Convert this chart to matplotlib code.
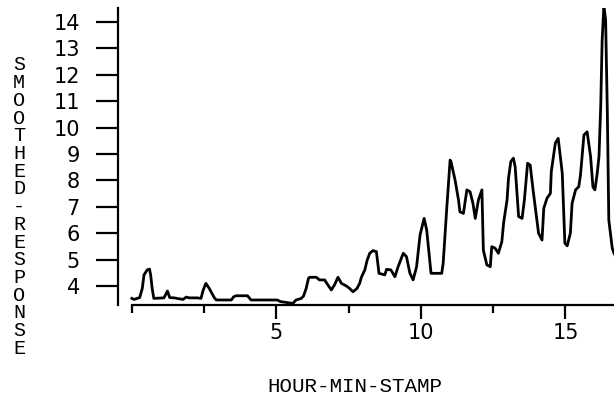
import matplotlib
matplotlib.use('Agg')
import matplotlib.pyplot as plt
from matplotlib.ticker import FixedLocator, MultipleLocator

# hour stamp vs smoothed response
hours = [0.0, 0.07, 0.27, 0.36, 0.42, 0.53, 0.61, 0.65, 0.70, 0.76,
         1.11, 1.23, 1.31, 1.46, 1.77, 1.88, 1.98, 2.26, 2.39, 2.47,
         2.56, 2.67, 2.85, 2.92, 3.44, 3.52, 3.60, 4.00, 4.12, 5.03,
         5.14, 5.57, 5.68, 5.86, 5.94, 6.03, 6.11, 6.15, 6.38, 6.49,
         6.67, 6.78, 6.90, 7.01, 7.13, 7.25, 7.42, 7.53, 7.65, 7.79,
         7.88, 7.94, 8.06, 8.14, 8.23, 8.34, 8.46, 8.55, 8.75, 8.81,
         8.96, 9.10, 9.21, 9.39, 9.50, 9.62, 9.73, 9.85, 9.97, 10.11,
         10.20, 10.35, 10.72, 10.77, 10.89, 11.01, 11.04, 11.18, 11.30, 11.35,
         11.47, 11.59, 11.70, 11.80, 11.88, 11.99, 12.11, 12.16, 12.28, 12.40,
         12.45, 12.57, 12.68, 12.80, 12.86, 12.98, 13.03, 13.11, 13.20, 13.26,
         13.38, 13.50, 13.58, 13.69, 13.78, 13.88, 13.99, 14.07, 14.19, 14.25,
         14.36, 14.48, 14.51, 14.65, 14.75, 14.89, 14.98, 15.06, 15.17, 15.23,
         15.35, 15.46, 15.52, 15.64, 15.75, 15.87, 15.95, 16.02, 16.10, 16.16,
         16.22, 16.27, 16.33, 16.39, 16.45, 16.50, 16.62, 16.68, 16.75]
response = [3.53, 3.49, 3.56, 3.91, 4.42, 4.61, 4.64, 4.42, 3.92, 3.53,
            3.55, 3.81, 3.56, 3.55, 3.49, 3.58, 3.55, 3.55, 3.53, 3.85,
            4.10, 3.92, 3.56, 3.47, 3.47, 3.59, 3.63, 3.63, 3.47, 3.47,
            3.41, 3.34, 3.47, 3.53, 3.62, 3.91, 4.29, 4.33, 4.33, 4.23,
            4.23, 4.04, 3.85, 4.04, 4.33, 4.10, 4.00, 3.91, 3.78, 3.91,
            4.10, 4.33, 4.61, 4.98, 5.24, 5.34, 5.30, 4.48, 4.42, 4.63,
            4.61, 4.35, 4.73, 5.24, 5.11, 4.48, 4.23, 4.73, 5.93, 6.56,
            6.12, 4.48, 4.48, 4.86, 6.88, 8.77, 8.71, 8.02, 7.26, 6.81,
            6.75, 7.64, 7.57, 7.13, 6.56, 7.26, 7.64, 5.36, 4.80, 4.73,
            5.49, 5.43, 5.24, 5.68, 6.38, 7.26, 8.08, 8.71, 8.84, 8.52,
            6.63, 6.56, 7.26, 8.65, 8.58, 7.64, 6.69, 6.00, 5.74, 6.94,
            7.32, 7.51, 8.33, 9.41, 9.59, 8.27, 5.62, 5.52, 6.00, 7.13,
            7.64, 7.76, 8.20, 9.72, 9.84, 8.90, 7.76, 7.64, 8.27, 8.90,
            10.79, 13.32, 14.60, 14.08, 10.54, 6.50, 5.43, 5.24, 5.10]

x_major = [5, 10, 15]
y_ticks = [4, 5, 6, 7, 8, 9, 10, 11, 12, 13, 14]
y_label = "SMOOTHED-RESPONSE"
x_label = "HOUR-MIN-STAMP"

W, H = 614, 404
fig = plt.figure(figsize=(W / 100, H / 100), dpi=100)
ax = fig.add_axes([118 / W, (H - 305) / H, (W - 118) / W, (305 - 8) / H])

ax.plot(hours, response, color='black', linewidth=2.0)

ax.set_xlim(-0.48, 16.68)
ax.set_ylim(3.28, 14.53)

ax.spines['top'].set_visible(False)
ax.spines['right'].set_visible(False)
ax.spines['left'].set_linewidth(1.6)
ax.spines['bottom'].set_linewidth(1.6)
ax.spines['bottom'].set_bounds(0, 16.68)

ax.xaxis.set_major_locator(FixedLocator(x_major))
ax.xaxis.set_minor_locator(MultipleLocator(2.5))
ax.yaxis.set_major_locator(FixedLocator(y_ticks))

ax.tick_params(axis='x', which='major', length=10, width=1.6, pad=3)
ax.tick_params(axis='x', which='minor', length=5.5, width=1.6)
ax.tick_params(axis='y', which='major', length=15.5, width=1.6, pad=12)
for lab in ax.get_xticklabels() + ax.get_yticklabels():
    lab.set_fontfamily('DejaVu Sans')
    lab.set_fontsize(15)

fig.text(355 / W, 1 - 386 / H, x_label, family='Liberation Mono',
         fontsize=15, ha='center', va='center')

for i, ch in enumerate(y_label):
    fig.text(19 / W, 1 - (65 + i * 17.7) / H, ch, family='Liberation Mono',
             fontsize=14.5, ha='center', va='center')

fig.savefig('out.png', dpi=100)
